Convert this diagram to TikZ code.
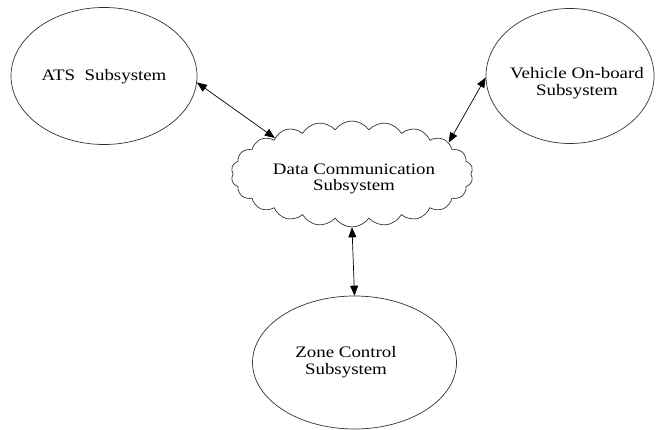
\documentclass[tikz,border=0pt]{standalone}
\usepackage{fontspec}
\setmainfont{Liberation Serif}[FakeStretch=1.18]
\usetikzlibrary{shapes.geometric,shapes.symbols,arrows.meta}
\begin{document}
\begin{tikzpicture}[x=1pt,y=1pt,
  subsys/.style={draw=black!80, line width=0.7pt, ellipse, inner sep=0pt},
  cloudshape/.style={draw=black!80, line width=0.7pt, cloud, cloud puffs=22, cloud puff arc=110, cloud ignores aspect, inner sep=0pt, minimum width=242pt, minimum height=106pt},
  lbl/.style={font=\fontsize{16}{16.5}\selectfont, text=black, align=center, inner sep=0pt},
  link/.style={draw=black, line width=0.7pt, {Triangle[length=10pt,width=8pt]}-{Triangle[length=10pt,width=8pt]}}]
\useasboundingbox (0,0) rectangle (660,430);
% shapes
\node[subsys, minimum width=186pt, minimum height=137pt] (ats) at (104,354) {};
\node[subsys, minimum width=168pt, minimum height=135pt] (veh) at (570,354) {};
\node[subsys, minimum width=204pt, minimum height=133pt] (zone) at (354.5,67.5) {};
\node[cloudshape] (cloud) at (352,256) {};
% texts
\node[lbl] (atst) at (104,353) {ATS\ \ Subsystem};
\node[lbl] (veht) at (577,347) {Vehicle On-board\\Subsystem};
\node[lbl] (zonet) at (346,68) {Zone Control\\Subsystem};
\node[lbl] (cloudt) at (354,251) {Data Communication\\Subsystem};
% connectors
\draw[link] (ats.-4) -- (cloud.155);
\draw[link] (veh.181) -- (cloud.18);
\draw[link] (cloud.south) -- (zone.north);
\end{tikzpicture}
\end{document}
